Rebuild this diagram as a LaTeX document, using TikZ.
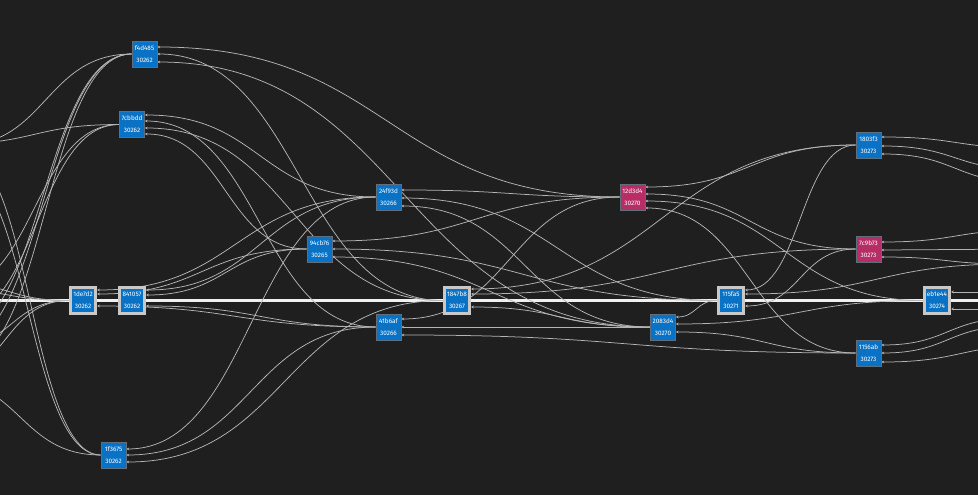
\documentclass[tikz,border=0pt]{standalone}
\usepackage{fontspec}
\setmainfont{Fira Sans}
\usetikzlibrary{arrows.meta,calc}
\pgfdeclarelayer{back}
\pgfdeclarelayer{links}
\pgfsetlayers{back,links,main}
\definecolor{bgc}{RGB}{31,31,31}
\definecolor{nblue}{RGB}{10,114,196}
\definecolor{nred}{RGB}{185,45,103}
\definecolor{nbord}{RGB}{95,110,125}
\definecolor{hlc}{RGB}{200,200,200}
\definecolor{edgec}{RGB}{180,180,180}
\definecolor{thickc}{RGB}{240,240,240}
\begin{document}
\begin{tikzpicture}[x=1pt,y=-1pt,
 blk/.style={draw=nbord,line width=0.6pt,fill=nblue,minimum width=25pt,minimum height=26pt,inner sep=0pt,text=white,align=center,font=\fontsize{6.4}{12}\selectfont},
 redblk/.style={blk,fill=nred},
 hlblk/.style={blk,draw=hlc,line width=2.6pt,minimum width=25.5pt,minimum height=26.5pt},
 link/.style={draw=edgec,line width=0.75pt,-{Stealth[length=2.8pt,width=2.6pt]},
   to path={let \p1=(\tikztostart),\p2=(\tikztotarget) in .. controls ({(\x1+\x2)/2},\y1) and ({(\x1+\x2)/2},\y2) .. (\tikztotarget)}},
 mainlink/.style={link,-,draw=thickc,line width=2.3pt}
]
\begin{pgfonlayer}{back}
\fill[bgc] (0,0) rectangle (978,495);
\end{pgfonlayer}
\useasboundingbox (0,0) rectangle (978,495);

% blocks
\node[blk] (nf4d485) at (144.5,54) {f4d485\\30262};
\node[blk] (n7cbbdd) at (132,124.5) {7cbbdd\\30262};
\node[hlblk] (n1de7d2) at (83,300.5) {1de7d2\\30262};
\node[hlblk] (n841057) at (132,300.5) {841057\\30262};
\node[blk] (n1f3675) at (113.5,455) {1f3675\\30262};
\node[blk] (n94cb76) at (319.5,249) {94cb76\\30265};
\node[blk] (n24f93d) at (388.5,197) {24f93d\\30266};
\node[blk] (n41b6af) at (388.5,327) {41b6af\\30266};
\node[hlblk] (n1847b8) at (457,300.5) {1847b8\\30267};
\node[redblk] (n12d3d4) at (632.5,197) {12d3d4\\30270};
\node[blk] (n2083d4) at (663,327) {2083d4\\30270};
\node[hlblk] (n115fa5) at (731,300.5) {115fa5\\30271};
\node[blk] (n1803f3) at (868.5,145) {1803f3\\30273};
\node[redblk] (n7c9b73) at (868.5,249) {7c9b73\\30273};
\node[blk] (n1156ab) at (868.5,353) {1156ab\\30273};
\node[hlblk] (neb1e44) at (937,300.5) {eb1e44\\30274};

% off-picture ends
\coordinate (L0) at (-60,300.5);
\coordinate (L1) at (-40,145);
\coordinate (L2) at (-50,144);
\coordinate (L3) at (-40,152);
\coordinate (L4) at (-45,166);
\coordinate (L5) at (-50,283);
\coordinate (L6) at (-50,290);
\coordinate (L7) at (-45,318);
\coordinate (L8) at (-45,332);
\coordinate (L9) at (-45,346);
\coordinate (L10) at (-40,362);
\coordinate (L11) at (-60,380);
\coordinate (R0) at (1040,300.5);
\coordinate (R1) at (1030,148);
\coordinate (R2) at (1030,170);
\coordinate (R3) at (1030,183);
\coordinate (R4) at (1030,230);
\coordinate (R5) at (1030,249);
\coordinate (R6) at (1010,264);
\coordinate (R7) at (1030,292);
\coordinate (R8) at (1030,309);
\coordinate (R9) at (1015,318);
\coordinate (R10) at (1015,326);
\coordinate (R11) at (1040,345);

\begin{pgfonlayer}{links}
\clip (0,0) rectangle (978,495);
% main chain
\draw[mainlink] (n1de7d2.west) to (L0);
\draw[mainlink] (n841057.west) to (n1de7d2.east);
\draw[mainlink] (n1847b8.west) to (n841057.east);
\draw[mainlink] (n115fa5.west) to (n1847b8.east);
\draw[mainlink] (neb1e44.west) to (n115fa5.east);
\draw[mainlink] (R0) to (neb1e44.east);
% left, off picture
\draw[link] (nf4d485.west) to (L1);
\draw[link] (nf4d485.west) to (L8);
\draw[link] (nf4d485.west) to (L9);
\draw[link] (nf4d485.west) to (L10);
\draw[link] (n7cbbdd.west) to (L2);
\draw[link] (n7cbbdd.west) to (L6);
\draw[link] (n7cbbdd.west) to (L7);
\draw[link] (n1f3675.west) to (L3);
\draw[link] (n1f3675.west) to (L4);
\draw[link] (n1f3675.west) to (L11);
\draw[link] (n1de7d2.west) to (L5);
\draw[link] (n1de7d2.west) to (L6);
\draw[link] (n1de7d2.west) to (L9);
\draw[link] (n1de7d2.west) to (L11);
% f4d485
\draw[link] (n12d3d4.west) to (nf4d485.east |- 0,47);
\draw[link] (n1847b8.west) to (nf4d485.east |- 0,54);
\draw[link] (n2083d4.west) to (nf4d485.east |- 0,62);
% 7cbbdd
\draw[link] (n24f93d.west) to (n7cbbdd.east |- 0,115);
\draw[link] (n41b6af.west) to (n7cbbdd.east |- 0,121);
\draw[link] (n1847b8.west) to (n7cbbdd.east |- 0,128);
\draw[link] (n94cb76.west) to (n7cbbdd.east |- 0,134);
% 1f3675
\draw[link] (n24f93d.west) to (n1f3675.east |- 0,449);
\draw[link] (n41b6af.west) to (n1f3675.east |- 0,455);
\draw[link] (n1847b8.west) to (n1f3675.east |- 0,462);
% 841057 and 1de7d2
\draw[link] (n24f93d.west) to (n841057.east |- 0,290);
\draw[link] (n94cb76.west) to (n841057.east |- 0,295);
\draw[link] (n41b6af.west) to (n841057.east |- 0,306);
\draw[link] (n24f93d.west) to (n1de7d2.east |- 0,290);
\draw[link] (n94cb76.west) to (n1de7d2.east |- 0,294);
\draw[link] (n41b6af.west) to (n1de7d2.east |- 0,306);
% 24f93d
\draw[link] (n12d3d4.west) to (n24f93d.east |- 0,190);
\draw[link] (n115fa5.west) to (n24f93d.east |- 0,198);
\draw[link] (n2083d4.west) to (n24f93d.east |- 0,206);
% 94cb76
\draw[link] (n12d3d4.west) to (n94cb76.east |- 0,241);
\draw[link] (n115fa5.west) to (n94cb76.east |- 0,249);
\draw[link] (n2083d4.west) to (n94cb76.east |- 0,257);
% 41b6af
\draw[link] (n12d3d4.west) to (n41b6af.east |- 0,319);
\draw[link] (n2083d4.west) to (n41b6af.east |- 0,327);
\draw[link] (n1156ab.west) to (n41b6af.east |- 0,335);
% 1847b8
\draw[link] (n1803f3.west) to (n1847b8.east |- 0,289);
\draw[link] (n7c9b73.west) to (n1847b8.east |- 0,294);
\draw[link] (n2083d4.west) to (n1847b8.east |- 0,307);
% 12d3d4
\draw[link] (n1803f3.west) to (n12d3d4.east |- 0,187);
\draw[link] (n7c9b73.west) to (n12d3d4.east |- 0,194);
\draw[link] (neb1e44.west) to (n12d3d4.east |- 0,201);
\draw[link] (n1156ab.west) to (n12d3d4.east |- 0,208);
% 2083d4
\draw[link] (n115fa5.west) to (n2083d4.east |- 0,317);
\draw[link] (neb1e44.west) to (n2083d4.east |- 0,324);
\draw[link] (n1156ab.west) to (n2083d4.east |- 0,332);
% 115fa5
\draw[link] (n1803f3.west) to (n115fa5.east |- 0,290);
\draw[link] (R6) to (n115fa5.east |- 0,294);
\draw[link] (n7c9b73.west) to (n115fa5.east |- 0,306);
% right, off picture
\draw[link] (R1) to (n1803f3.east |- 0,137);
\draw[link] (R2) to (n1803f3.east |- 0,146);
\draw[link] (R3) to (n1803f3.east |- 0,154);
\draw[link] (R4) to (n7c9b73.east |- 0,242);
\draw[link] (R5) to (n7c9b73.east |- 0,250);
\draw[link] (R6) to (n7c9b73.east |- 0,257);
\draw[link] (R7) to (neb1e44.east |- 0,292);
\draw[link] (R8) to (neb1e44.east |- 0,309);
\draw[link] (R9) to (n1156ab.east |- 0,345);
\draw[link] (R10) to (n1156ab.east |- 0,353);
\draw[link] (R11) to (n1156ab.east |- 0,362);
\end{pgfonlayer}
\end{tikzpicture}
\end{document}
